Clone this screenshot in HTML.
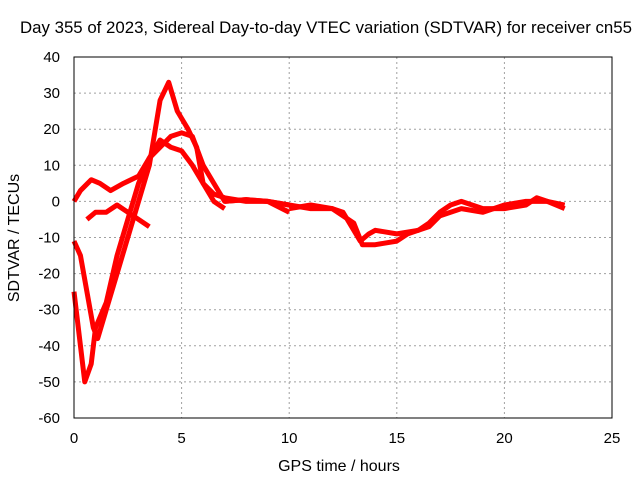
<!DOCTYPE html>
<html><head><meta charset="utf-8"><style>
body{margin:0;background:#fff;}
svg{display:block;font-family:"Liberation Sans",sans-serif;}
</style></head><body>
<svg id="chart" width="640" height="480">
<text x="326" y="33" font-size="16.8" text-anchor="middle" textLength="612" lengthAdjust="spacingAndGlyphs">Day 355 of 2023, Sidereal Day-to-day VTEC variation (SDTVAR) for receiver cn55</text>
<text x="339" y="471" font-size="16" text-anchor="middle">GPS time / hours</text>
<text transform="translate(19,238) rotate(-90)" font-size="16" text-anchor="middle">SDTVAR / TECUs</text>
<g id="grid"></g><g id="series"></g>
<rect x="74" y="57" width="538" height="361" fill="none" stroke="#000"/>
</svg>
<script>
const xTicks=[0,5,10,15,20,25];
const yTicks=[40,30,20,10,0,-10,-20,-30,-40,-50,-60];
const trackA_t=[0,0.3,0.5,0.8,1,1.5,2,2.5,3,3.5,4,4.5,5,5.5,6,6.5,7];
const trackA_v=[-25,-40,-50,-45,-35,-28,-15,-5,5,12,17,15,14,10,5,0,-2];
const trackB_t=[0,0.3,0.6,0.9,1.1,1.5,2,2.5,3,3.5,4,4.4,4.8,5.3,5.7,6,6.5,7,8,9,10];
const trackB_v=[-11,-15,-25,-35,-38,-30,-20,-10,0,10,28,33,25,20,15,5,2,1,0,0,-3];
const trackC_t=[0,0.3,0.8,1.2,1.7,2.3,3,3.5,4,4.5,5,5.5,6,6.5,7,8,9,10];
const trackC_v=[0,3,6,5,3,5,7,12,15,18,19,18,10,5,0,0.5,0,-1];
const trackD_t=[0.6,1,1.5,2,2.5,3,3.5];
const trackD_v=[-5,-3,-3,-1,-3,-5,-7];
const trackE_t=[7,8,9,10,11,12,12.5,13,13.3,13.7,14,15,16,16.5,17,17.5,18,18.5,19,20,21,21.5,22,22.8];
const trackE_v=[0,0.5,0,-1,-2,-2,-3,-8,-11,-9,-8,-9,-8,-6,-3,-1,0,-1,-2,-2,-1,1,0,-1];
const trackF_t=[10,11,12,13,13.4,14,15,15.5,16.5,17,18,19,20,21,22,22.8];
const trackF_v=[-2,-1,-2,-6,-12,-12,-11,-9,-7,-4,-2,-3,-1,0,0,-2];
const tracks=[[trackA_t,trackA_v],[trackB_t,trackB_v],[trackC_t,trackC_v],[trackD_t,trackD_v],[trackE_t,trackE_v],[trackF_t,trackF_v]];
const X=t=>74+t*538/25, Y=v=>57+(40-v)*361/100;
const NS="http://www.w3.org/2000/svg";
const g=document.getElementById('grid'), s=document.getElementById('series');
xTicks.forEach(t=>{
 const l=document.createElementNS(NS,'line');
 
 
 l.setAttribute('x1',X(t));l.setAttribute('x2',X(t));l.setAttribute('y1',57);l.setAttribute('y2',418);
 l.setAttribute('stroke','#a0a0a0');l.setAttribute('stroke-dasharray','2,3');g.appendChild(l);
 const tx=document.createElementNS(NS,'text');
 
 
 tx.setAttribute('x',X(t));tx.setAttribute('y',443);tx.setAttribute('font-size','15');tx.setAttribute('text-anchor','middle');
 tx.textContent=t;g.appendChild(tx);
});
yTicks.forEach(v=>{
 const l=document.createElementNS(NS,'line');
 
 
 l.setAttribute('x1',74);l.setAttribute('x2',612);l.setAttribute('y1',Y(v));l.setAttribute('y2',Y(v));
 l.setAttribute('stroke','#a0a0a0');l.setAttribute('stroke-dasharray','2,3');g.appendChild(l);
 const tx=document.createElementNS(NS,'text');
 
 
 tx.setAttribute('x',60);tx.setAttribute('y',Y(v)+5);tx.setAttribute('font-size','15');tx.setAttribute('text-anchor','end');
 tx.textContent=v;g.appendChild(tx);
});
tracks.forEach(([ts,vs])=>{
 const p=document.createElementNS(NS,'polyline');
 
 
 p.setAttribute('points',ts.map((t,i)=>X(t)+','+Y(vs[i])).join(' '));
 p.setAttribute('fill','none');p.setAttribute('stroke','#f00');p.setAttribute('stroke-width','5');
 p.setAttribute('stroke-linejoin','round');s.appendChild(p);
});
</script>
</body></html>
